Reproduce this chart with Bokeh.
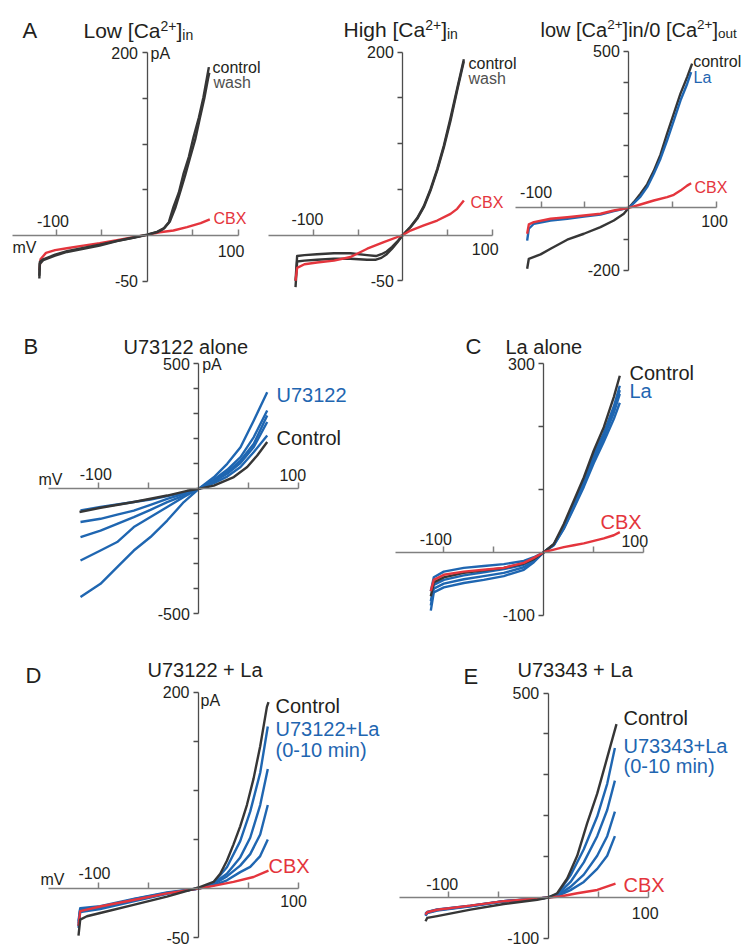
from bokeh.plotting import figure
from bokeh.models import Range1d, LinearAxis, FixedTicker
from bokeh.embed import file_html
from bokeh.resources import INLINE
from bokeh.core.properties import value

FONT = "Liberation Sans"
TEXT = "#231f20"
DARK = "#363636"
GREY = "#505050"
BLUE = "#1f66b1"
RED = "#e4353d"
AXIS_Y = "#4d4d4d"
AXIS_X = "#808080"

# ------------------------------------------------------------------ data
# A1  Low [Ca2+]in   (mV, pA)
a1_control_mv = [-118.3, -117.8, -114, -101, -88, -70, -52, -33, -15, 0, 11, 18, 24, 29, 35, 40, 46, 51, 57, 62, 66, 68]
a1_control_pa = [-47, -31, -27, -22, -18, -14.6, -10.9, -6.2, -2.6, 0.7, 3.6, 7.3, 14.6, 31, 47, 67, 86, 107, 129, 151, 173, 184]
a1_wash_mv = [-118.3, -117.8, -114, -101, -88, -70, -52, -33, -15, 0, 11, 19, 25, 31, 36, 42, 47, 53, 58, 63, 67, 68.5]
a1_wash_pa = [-44, -29, -26, -21, -17, -13.5, -10, -5.8, -2.2, 1, 4, 8, 15, 30, 46, 66, 84, 105, 128, 150, 171, 178]
a1_cbx_mv = [-118.3, -117, -111, -101, -88, -70, -52, -33, -15, 0, 14, 29, 44, 59, 69]
a1_cbx_pa = [-38, -26, -19, -16, -14, -11, -8.5, -5, -1.9, 0.7, 3.6, 5.5, 9.1, 13.5, 17.5]

# A2  High [Ca2+]in
a2_control_mv = [-120, -118.2, -110, -96, -77, -58.5, -40, -30, -24, -18, -12, -6, 0, 8.6, 16.1, 23.5, 31, 38.5, 46, 53.4, 60.8, 68.3]
a2_control_pa = [-57, -29, -28, -27, -26, -26, -27, -27, -25, -21, -15, -8, 0, 8.5, 17.7, 30.4, 48.6, 70.5, 96, 125, 158, 190]
a2_wash_mv = [-120, -118.2, -110, -96, -77, -58.5, -40, -30, -24, -18, -12, -6, 0, 8.6, 16.1, 23.5, 31, 38.5, 46, 53.4, 60.8, 68.3]
a2_wash_pa = [-50, -23, -22, -21, -20, -20, -22, -23, -21, -18, -13, -7, 0, 9, 18.5, 31.5, 50, 72, 98, 128, 160, 192]
a2_cbx_mv = [-120, -118.2, -110, -96, -77, -58.5, -39.8, -21.3, 0, 8.6, 23.5, 38.5, 53.4, 60.8, 68.3]
a2_cbx_pa = [-50, -36, -32, -30, -28, -24, -15, -7.8, 0, 4.9, 10.4, 15.8, 23.1, 28.6, 37.7]

# A3  low [Ca2+]in / 0 [Ca2+]out
a3_control_mv = [-115.9, -114, -100.6, -89.2, -70.2, -51.2, -32.3, -17.1, -5.7, 0, 5.7, 13.3, 20.9, 28.5, 36.1, 43.7, 51.3, 58.9, 66.5, 72.2]
a3_control_pa = [-195, -163, -149, -131, -102, -83, -62, -40.6, -19, 0, 18, 45, 75, 118, 170, 237, 301, 365, 418, 461]
a3_la_mv = [-115.9, -114, -108.3, -89.2, -70.2, -51.2, -32.3, -17.1, 0, 5.7, 13.3, 20.9, 28.5, 36.1, 43.7, 51.3, 58.9, 66.5, 71.1]
a3_la_pa = [-105, -67, -51, -40.6, -35, -27.8, -21.4, -10.8, 0, 14.7, 36, 66, 109, 157, 216, 279, 343, 396, 434]
a3_cbx_mv = [-115.9, -114, -108.3, -89.2, -70.2, -51.2, -32.3, -17.1, 0, 13.3, 28.5, 43.7, 51.3, 58.9, 66.5, 71.1]
a3_cbx_pa = [-83, -53, -46, -35, -30, -24.6, -19, -8.6, 0, 10.6, 23.3, 34, 41.5, 55, 71, 78.7]

# B  U73122 alone
b_control_mv = [-119.3, -98.3, -65, -31.6, -11.6, 0, 15, 35, 48.4, 58.4, 68.4]
b_control_pa = [-93, -76, -53, -27, -8, 0, 13, 47, 87, 133, 187]
b_u73122_mv = [-118.3, -98.3, -81.6, -65, -48.3, -31.6, -15, 0, 15, 28.4, 41.7, 55, 68.4]
b_u73122_1_pa = [-87, -73, -63, -53, -43, -29, -16, 0, 23, 49, 87, 147, 213]
b_u73122_2_pa = [-133, -120, -103, -87, -64, -40, -20, 0, 29, 60, 103, 167, 267]
b_u73122_3_pa = [-193, -167, -140, -113, -84, -53, -27, 0, 33, 67, 113, 180, 293]
b_u73122_4_pa = [-287, -247, -213, -153, -113, -73, -33, 0, 36, 76, 127, 207, 313]
b_u73122_5_pa = [-433, -380, -313, -247, -193, -127, -53, 0, 46, 100, 166, 273, 386]

# C  La alone
c_mv = [-113, -110, -100, -80, -60, -40, -20, -10, 0, 10, 20, 30, 40, 50, 60, 70, 76]
c_control_pa = [-70, -48, -40, -33, -29, -25, -18, -11, 0, 13, 45, 82, 119, 162, 199, 247, 281]
c_la_1_pa = [-62, -40, -31, -25, -22, -19, -14, -8, 0, 12, 38, 72, 108, 147, 182, 222, 252]
c_la_2_pa = [-78, -52, -44, -37, -32, -27, -20, -12, 0, 12, 41, 77, 114, 155, 190, 232, 265]
c_la_3_pa = [-93, -64, -56, -49, -44, -38, -28, -16, 0, 11, 37, 70, 104, 142, 176, 212, 238]
c_la_4_pa = [-85, -58, -50, -43, -38, -33, -24, -14, 0, 12, 40, 75, 112, 152, 186, 226, 258]
c_cbx_pa = [-62, -44, -36, -31, -28, -25, -17, -9, 0, 4, 8, 11, 14, 18, 22, 27, 32]

# D  U73122 + La
d_control_mv = [-120, -118.3, -111.6, -98.3, -65, -31.6, 0, 15, 21.7, 28.4, 35, 41.7, 48.4, 55, 61.7, 68.4, 70]
d_control_pa = [-48, -31.7, -28.3, -25, -16.7, -8.3, 1, 6.7, 15, 28.3, 45, 63.3, 85, 111.7, 145, 185, 190]
d_blue_mv = [-120, -118.3, -98.3, -65, -31.6, 0, 15, 28.4, 41.7, 51.7, 61.7, 69.3]
d_blue_1_pa = [-40, -24, -21, -13, -5.5, 0, 5.7, 21.7, 48.3, 78.3, 118, 165]
d_blue_2_pa = [-35, -22, -19.5, -12, -5, 0, 5, 15, 31.7, 51.7, 85, 121.7]
d_blue_3_pa = [-38, -21, -19, -11, -4.5, 0, 4.3, 12.3, 23.3, 35, 55, 85]
d_blue_4_pa = [-33, -20, -18, -10.5, -4, 0, 3.3, 8.3, 16.7, 22, 33, 50]
d_cbx_mv = [-120, -118.3, -98.3, -65, -31.6, 0, 15, 35, 55, 70]
d_cbx_pa = [-38, -23, -18.3, -11.7, -5, 0, 2.7, 6.7, 11.7, 18.3]

# E  U73343 + La
e_control_mv = [-122.7, -121, -111, -77.7, -44.4, -11, 0, 9, 19, 29, 39, 49, 59, 68.3]
e_control_pa = [-58, -50, -45.5, -29.5, -15.9, -5.5, 0, 10.4, 46.5, 102, 182, 254, 342, 424]
e_blue_mv = [-122.7, -121, -111, -77.7, -44.4, -11, 0, 9, 22.3, 35.6, 49, 59, 66.7]
e_blue_1_pa = [-45, -38, -32, -21.5, -9.6, -3, 0, 8, 54, 118, 198, 278, 366]
e_blue_2_pa = [-42, -36, -30, -20.5, -9, -2.8, 0, 6.4, 38, 86, 150, 214, 286]
e_blue_3_pa = [-44, -37, -31, -21, -9.3, -2.9, 0, 4.8, 26, 56, 102, 150, 210]
e_blue_4_pa = [-40, -35, -29, -20, -8.8, -2.7, 0, 3.2, 18, 38, 70, 102, 150]
e_cbx_mv = [-122.7, -121, -111, -77.7, -44.4, -11, 0, 12, 29, 49, 67.3]
e_cbx_pa = [-42, -36, -30, -20, -9, -2.5, 0, 2.4, 10.4, 18.4, 34]

# ticks
x_ticks = [-100, -50, 50, 100]
a_y_ticks = [200, 150, 100, 50, -50]
a3_y_ticks = [500, 400, 300, 200, 100, -100, -200]
b_y_ticks = [500, 400, 300, 200, 100, -100, -200, -300, -400, -500]
c_y_ticks = [300, 200, 100, -100]
d_y_ticks = [200, 150, 100, 50, -50]
e_y_ticks = [500, 400, 300, 200, 100, -100]

# ------------------------------------------------------------------ page
# the page is drawn in window-pixel coordinates (x right, y down)
PAGE_L, PAGE_T, PAGE_R, PAGE_B = 0, 0, 755, 946

p = figure(width=PAGE_R - PAGE_L, height=PAGE_B - PAGE_T,
           x_range=Range1d(PAGE_L, PAGE_R), y_range=Range1d(PAGE_B, PAGE_T),
           x_axis_type=None, y_axis_type=None, toolbar_location=None,
           output_backend="svg", min_border=0, outline_line_color=None,
           background_fill_color="white", border_fill_color="white")


def panel(name, ox, oy, sx, sy, xbounds, ybounds, yticks, ylabels, xlabels):
    p.extra_x_ranges[name + "x"] = Range1d((PAGE_L - ox) / sx, (PAGE_R - ox) / sx)
    p.extra_y_ranges[name + "y"] = Range1d((oy - PAGE_B) / sy, (oy - PAGE_T) / sy)
    xa = LinearAxis(x_range_name=name + "x", y_range_name=name + "y", fixed_location=0,
                    bounds=xbounds, ticker=FixedTicker(ticks=x_ticks),
                    major_tick_in=6, major_tick_out=0, minor_tick_line_color=None,
                    axis_line_color=AXIS_X, axis_line_width=1.5,
                    major_tick_line_color=AXIS_X, major_tick_line_width=1.5,
                    major_label_overrides={t: "" for t in x_ticks},
                    major_label_text_font_size="0px")
    p.add_layout(xa, "below")
    ya = LinearAxis(x_range_name=name + "x", y_range_name=name + "y", fixed_location=0,
                    bounds=ybounds, ticker=FixedTicker(ticks=yticks),
                    major_tick_in=0, major_tick_out=5, minor_tick_line_color=None,
                    axis_line_color=AXIS_Y, axis_line_width=1.3,
                    major_tick_line_color=AXIS_Y, major_tick_line_width=1.3,
                    major_label_overrides={t: ylabels.get(t, "") for t in yticks},
                    major_label_standoff=4, major_label_text_font=FONT,
                    major_label_text_font_size="16px", major_label_text_color=TEXT)
    p.add_layout(ya, "left")
    for tick, txt, dx, dy in xlabels:
        p.text(x=[tick], y=[0], text=[txt], x_offset=dx, y_offset=dy,
               text_font=value(FONT), text_font_size=value("16px"), text_color=TEXT,
               text_align="center", text_baseline="middle",
               x_range_name=name + "x", y_range_name=name + "y")


def trace(name, xs, ys, color, width=2.4):
    p.line(xs, ys, line_color=color, line_width=width, line_join="round",
           x_range_name=name + "x", y_range_name=name + "y")


def label(x, y, s, size, color=TEXT, align="left", baseline="middle"):
    p.text(x=[x], y=[y], text=[s], text_font=value(FONT), text_font_size=value(f"{size}px"),
           text_color=color, text_align=align, text_baseline=baseline)


AW = {" ": 278, "[": 278, "]": 278, "/": 278, "+": 584, "-": 333, "C": 722, "H": 722, "L": 556,
      "a": 556, "g": 556, "h": 556, "i": 222, "l": 222, "n": 556, "o": 556, "t": 278, "u": 556, "w": 722}


def tw(s, size):
    return sum(AW.get(c, 556) for c in s) * size / 1000.0


def rich(x, y, parts):
    for s, size, dy in parts:
        label(x, y + dy, s, size, baseline="alphabetic")
        x += tw(s, size)


# ---------------- panel A1
panel("A1", 146.5, 235.0, 0.91, 0.915, (-148, 100), (-50, 200), a_y_ticks, {200: "200", -50: "-50"},
      [(-100, "-100", -3, -15), (100, "100", -7, 15)])
trace("A1", a1_cbx_mv, a1_cbx_pa, RED)
trace("A1", a1_wash_mv, a1_wash_pa, DARK)
trace("A1", a1_control_mv, a1_control_pa, DARK)

# ---------------- panel A2
panel("A2", 402.3, 234.5, 0.894, 0.915, (-150, 100), (-50, 200), a_y_ticks, {200: "200", -50: "-50"},
      [(-100, "-100", -6, -16), (100, "100", -7, 14)])
trace("A2", a2_wash_mv, a2_wash_pa, DARK)
trace("A2", a2_control_mv, a2_control_pa, DARK)
trace("A2", a2_cbx_mv, a2_cbx_pa, RED)

# ---------------- panel A3
panel("A3", 628.3, 207.3, 0.877, 0.3127, (-129, 100), (-200, 500), a3_y_ticks, {500: "500", -200: "-200"},
      [(-100, "-100", -5, -15.6), (100, "100", -2, 12.7)])
trace("A3", a3_control_mv, a3_control_pa, DARK)
trace("A3", a3_la_mv, a3_la_pa, BLUE)
trace("A3", a3_cbx_mv, a3_cbx_pa, RED)

# ---------------- panel B
panel("B", 198.3, 488.3, 1.0, 0.25, (-150, 100), (-500, 500), b_y_ticks, {500: "500", -500: "-500"},
      [(-100, "-100", -3, -15), (100, "100", -6, -14.3)])
for ys in [b_u73122_5_pa, b_u73122_4_pa, b_u73122_3_pa, b_u73122_2_pa, b_u73122_1_pa]:
    trace("B", b_u73122_mv, ys, BLUE)
trace("B", b_control_mv, b_control_pa, DARK)

# ---------------- panel C
panel("C", 543.3, 551.7, 1.0, 0.628, (-148, 100), (-100, 300), c_y_ticks, {300: "300", -100: "-100"},
      [(-100, "-100", -8, -13.4), (100, "100", -9, -11.7)])
for ys in [c_la_3_pa, c_la_4_pa, c_la_2_pa, c_la_1_pa]:
    trace("C", c_mv, ys, BLUE)
trace("C", c_mv, c_control_pa, DARK)
trace("C", c_mv, c_cbx_pa, RED)

# ---------------- panel D (bottom row very slightly compressed to fit the window)
panel("D", 198.0, 888.0, 1.0, 0.9815, (-150, 100), (-50, 200), d_y_ticks, {200: "200", -50: "-50"},
      [(-100, "-100", -4, -16), (100, "100", -5, 12)])
for ys in [d_blue_1_pa, d_blue_2_pa, d_blue_3_pa, d_blue_4_pa]:
    trace("D", d_blue_mv, ys, BLUE)
trace("D", d_cbx_mv, d_cbx_pa, RED)
trace("D", d_control_mv, d_control_pa, DARK)

# ---------------- panel E
panel("E", 547.7, 897.0, 1.0, 0.4088, (-149, 100), (-100, 500), e_y_ticks, {500: "500", -100: "-100"},
      [(-100, "-100", -6, -14), (100, "100", -3, 15)])
for ys in [e_blue_1_pa, e_blue_2_pa, e_blue_3_pa, e_blue_4_pa]:
    trace("E", e_blue_mv, ys, BLUE)
trace("E", e_cbx_mv, e_cbx_pa, RED)
trace("E", e_control_mv, e_control_pa, DARK)

# ---------------- texts (window pixel coordinates)
for letter, x, y in [("A", 22, 30), ("B", 23, 346), ("C", 465, 346), ("D", 25, 675), ("E", 463, 675.7)]:
    label(x, y, letter, 22, baseline="alphabetic")

rich(83, 30, [("Low [Ca", 21, 0), ("2+", 14, -5), ("]", 21, 0), ("in", 14, 4)])
rich(343, 29, [("High [Ca", 21, 0), ("2+", 14, -5), ("]", 21, 0), ("in", 14, 4)])
rich(540, 29, [("low [Ca", 20, 0), ("2+", 13.5, -5), ("]in/0 [Ca", 20, 0), ("2+", 13.5, -5),
               ("]", 20, 0), ("out", 13.5, 4)])
label(123, 346.7, "U73122 alone", 20, baseline="alphabetic")
label(505, 346, "La alone", 20, baseline="alphabetic")
label(147, 669.8, "U73122 + La", 20, baseline="alphabetic")
label(517, 669.8, "U73343 + La", 20, baseline="alphabetic")

# axis unit labels
label(150, 53, "pA", 16)
label(12, 247, "mV", 16)
label(201.7, 364, "pA", 16)
label(38, 479.3, "mV", 16)
label(200, 700.1, "pA", 16)
label(40, 879.4, "mV", 16)

# curve labels
label(212, 67, "control", 16)
label(213, 82, "wash", 16, GREY)
label(213, 218, "CBX", 16, RED)
label(468, 63, "control", 16)
label(468, 78, "wash", 16, GREY)
label(470, 202, "CBX", 16, RED)
label(692.7, 61, "control", 16)
label(693, 77.3, "La", 16, BLUE)
label(694, 187, "CBX", 16, RED)
label(276, 394, "U73122", 20, BLUE)
label(276, 437.3, "Control", 20)
label(629, 372.3, "Control", 20)
label(629, 390.7, "La", 20, BLUE)
label(600, 521, "CBX", 20, RED)
label(275, 705, "Control", 20)
label(275, 728.3, "U73122+La", 20, BLUE)
label(275, 749, "(0-10 min)", 20, BLUE)
label(268, 865.7, "CBX", 20, RED)
label(623, 717, "Control", 20)
label(623, 745.7, "U73343+La", 20, BLUE)
label(623, 765.7, "(0-10 min)", 20, BLUE)
label(623, 884, "CBX", 20, RED)

open("out.html", "w").write(file_html(p, INLINE))
